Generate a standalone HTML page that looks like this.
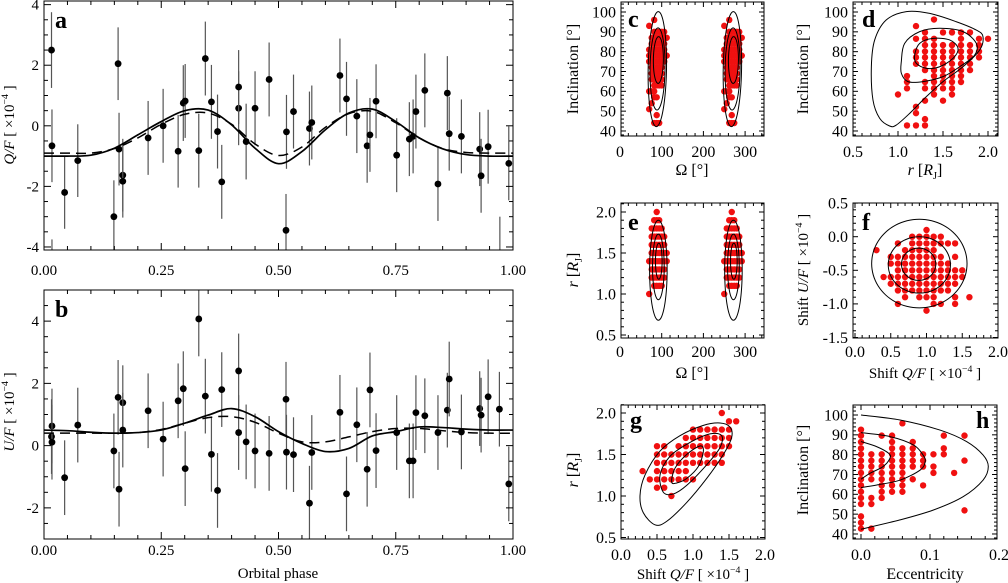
<!DOCTYPE html>
<html><head><meta charset="utf-8"><style>
html,body{margin:0;padding:0;background:#fff;}
svg{display:block;font-family:"Liberation Serif",serif;}
</style></head><body>
<svg id="fig" width="1008" height="583" viewBox="0 0 1008 583" xmlns="http://www.w3.org/2000/svg"></svg>
<script>
// ---------- DATA ----------
const A_phase=[.016,.017,.044,.072,.149,.158,.160,.168,.168,.222,.254,.286,.297,.301,.330,.344,.357,.370,.379,.415,.415,.431,.450,.480,.516,.517,.532,.566,.571,.631,.645,.667,.689,.695,.708,.752,.779,.787,.793,.812,.840,.860,.864,.890,.929,.932,.947,.991,.972,.017];
const A_val=[2.5,-0.66,-2.2,-1.15,-3.0,2.05,-0.77,-1.63,-1.83,-0.4,0.0,-0.84,0.75,0.82,-0.82,2.22,0.79,-0.19,-1.85,0.58,1.28,-0.52,0.58,1.53,-3.45,-0.2,0.47,-0.09,0.11,1.66,0.89,0.32,-0.66,-0.3,0.81,-0.97,-0.44,-0.35,0.47,1.17,-1.92,1.08,-0.26,-0.35,-0.77,-1.65,-0.69,-1.24,-4.5,-5.0];
const A_err=[1.25,1.2,1.2,1.2,1.2,1.2,1.2,1.2,1.2,1.22,1.22,1.2,1.25,1.22,1.22,1.22,1.22,1.22,1.22,1.22,1.22,1.25,1.22,1.22,1.2,1.22,1.22,1.22,1.22,1.22,1.22,1.22,1.22,1.22,1.22,1.22,1.22,1.22,1.22,1.22,1.22,1.22,1.22,1.22,1.22,1.22,1.22,1.22,1.5,1.25];
const A_modelPhase=[0,.05,.1,.15,.2,.25,.3,.35,.4,.45,.5,.55,.6,.65,.7,.75,.8,.85,.9,.95,1];
const A_solid=[-1.0,-1.0,-0.97,-0.74,-0.3,0.14,0.5,0.52,0.03,-0.74,-1.25,-0.85,-0.13,0.42,0.55,0.14,-0.4,-0.76,-0.95,-1.0,-1.0];
const A_dashed=[-0.9,-0.9,-0.9,-0.75,-0.4,0.05,0.38,0.42,0.05,-0.6,-0.98,-0.7,-0.05,0.4,0.48,0.1,-0.4,-0.75,-0.88,-0.9,-0.9];

const B_phase=[.016,.017,.017,.044,.072,.149,.158,.160,.168,.168,.222,.254,.286,.297,.301,.330,.344,.357,.370,.379,.415,.415,.431,.450,.480,.516,.517,.532,.566,.571,.631,.645,.667,.689,.695,.708,.752,.779,.787,.793,.812,.840,.860,.864,.890,.929,.932,.947,.971,.991];
const B_val=[0.29,0.63,0.11,-1.03,0.66,-0.17,1.55,-1.4,1.38,0.5,1.12,0.21,1.44,1.83,-0.74,4.07,1.59,-0.28,-1.44,1.8,2.4,0.42,0.12,-0.17,-0.25,1.49,-0.21,-0.29,-1.85,-0.22,1.07,-1.55,0.67,-0.76,1.79,-0.16,0.42,-0.49,-0.49,1.06,0.96,0.42,1.14,2.14,0.44,1.19,0.98,1.57,1.17,-1.23];
const B_err=[1.2,1.2,1.2,1.2,1.2,1.2,1.2,1.2,1.2,1.2,1.2,1.2,1.2,1.2,1.2,1.2,1.2,1.2,1.2,1.2,1.2,1.2,1.2,1.2,1.2,1.2,1.2,1.2,1.2,1.2,1.2,1.2,1.2,1.2,1.2,1.2,1.2,1.2,1.2,1.2,1.2,1.2,1.2,1.2,1.2,1.2,1.2,1.2,1.2,1.2];
const B_modelPhase=[0,.05,.1,.15,.2,.25,.3,.35,.4,.45,.5,.55,.6,.65,.7,.75,.8,.85,.9,.95,1];
const B_solid=[.5,.48,.43,.4,.42,.5,.72,.98,1.19,.93,.45,.07,-.19,-.09,.31,.45,.6,.58,.53,.5,.5];
const B_dashed=[.4,.4,.4,.4,.42,.52,.72,.9,.93,.75,.4,.12,.12,.28,.45,.55,.55,.48,.42,.4,.4];

const C_om=[70,76,82,88,94,100,106,112];
const C_inc=[[93,81,78,75,60,51],[87,84,81,78,75,72,69,66,60,54],[96,90,87,84,81,78,75,72,69,66,63,60,57,44],[90,87,84,81,78,75,72,69,66,63,57,48,44],[90,87,84,81,78,75,72,69,66,63,44],[90,87,84,81,78,75,72,69,66,63],[90,87,84,81,78,75],[87,78]];
const C_contours=[[89.5,71.2,22,29,0.08],[90,71.3,18,20.7,0.06],[92,75.8,12,11.8,0.05]];

const D_r=[1.0,1.1,1.2,1.3,1.4,1.5,1.6,1.7,1.8,1.9,2.0];
const D_inc=[[58.4],[67.7,64.7,61.5,42.8],[92.9,86.5,80.1,77.1,73.9,52.2,49.0,42.8],[89.7,86.5,83.3,80.1,77.1,73.9,70.7,64.7,61.5,55.3,46.0,42.8],[96.2,86.5,83.3,80.1,77.1,73.9,70.7,67.7,64.7,61.5,58.4],[89.7,83.3,80.1,77.1,73.9,70.7,67.7,64.7,61.5,55.3],[89.7,83.3,80.1,77.1,73.9,70.7,67.7,64.7,61.5,58.4],[89.7,86.5,83.3,80.1,77.1,73.9,70.7,67.7,64.7],[89.7,83.3,80.1,77.1,73.9,70.7],[86.5,83.3,80.1,77.1],[86.5]];
const D_outerR=[.907,.796,.722,.704,.741,.870,1.093,1.352,1.648,1.870,1.944,1.907,1.722,1.5,1.315,1.13,.981];
const D_outerI=[42.5,46.4,55.6,72.4,85.9,96,100.2,99.3,95.1,90.9,87.6,80.8,72.4,64.9,57.3,48.9,43];
const D_midR=[1.037,1.074,1.241,1.463,1.722,1.870,1.852,1.685,1.5,1.278,1.111,1.037];
const D_midI=[75,84.2,90.1,91.8,90.1,84.2,78.3,72.4,67.4,64.9,64.9,69.1];
const D_inR=[1.185,1.241,1.389,1.574,1.667,1.611,1.463,1.315,1.204];
const D_inI=[78.3,84.2,86.7,85.9,81.7,76.6,72.4,71.6,74.1];

const E_r=[2.0,1.9,1.8,1.7,1.6,1.5,1.4,1.3,1.2,1.1,1.0];
const E_om=[[88],[82,88,94],[76,82,88,94,100],[76,82,88,94,100,106],[76,82,88,94,100,106],[76,82,88,94,100,106,112],[70,76,82,88,94,100,106,112],[76,82,88,94,100,106],[76,82,88,94,100,106],[82,88,94,100],[70]];
const E_contours=[[92,1.29,21,0.61],[92,1.33,14,0.4],[93,1.4,8,0.22]];

const F_q=[0.3,0.4,0.5,0.6,0.7,0.8,0.9,1.0,1.1,1.2,1.3,1.4,1.5,1.6];
const F_u=[[-0.2],[-0.6],[-0.3,-0.4,-0.6,-0.7],[-0.1,-0.3,-0.4,-0.5,-0.6,-0.7,-0.8,-1.0],[-0.2,-0.3,-0.4,-0.5,-0.6,-0.7,-0.8,-0.9],[0,-0.1,-0.2,-0.3,-0.4,-0.5,-0.6,-0.7,-0.8],[0,-0.1,-0.2,-0.3,-0.4,-0.5,-0.6,-0.7,-0.8,-0.9],[0.1,0,-0.1,-0.2,-0.3,-0.4,-0.5,-0.6,-0.7,-0.8,-0.9,-1.1],[0,-0.1,-0.2,-0.3,-0.4,-0.5,-0.6,-0.7,-0.8,-0.9,-1.0],[0,-0.1,-0.3,-0.4,-0.5,-0.6,-0.7,-0.8,-1.0],[-0.1,-0.4,-0.5,-0.6,-0.7,-0.8],[-0.1,-0.3,-0.5,-0.6,-0.7,-0.9,-1.0],[-0.5,-0.6],[-0.9]];
const F_contours=[[0.9,-0.40,0.667,0.66],[0.9,-0.42,0.435,0.42],[0.89,-0.41,0.24,0.24]];

const G_q=[0.3,0.4,0.5,0.6,0.7,0.8,0.9,1.0,1.1,1.2,1.3,1.4,1.5,1.6];
const G_r=[[1.3],[1.2],[1.6,1.5,1.4,1.3,1.2,1.1],[1.6,1.5,1.4,1.3,1.2,1.1],[1.5,1.4,1.3,1.2,1.0],[1.6,1.5,1.4,1.3,1.2],[1.7,1.6,1.5,1.4,1.3,1.2],[1.8,1.7,1.6,1.5,1.4,1.2],[1.8,1.7,1.6,1.5,1.4],[1.8,1.7,1.6,1.5,1.4],[1.8,1.7,1.6,1.5,1.4],[2.0,1.8,1.7,1.6,1.5,1.4],[1.9,1.8,1.7,1.6],[1.9]];
const G_outerQ=[.472,.310,.264,.333,.542,.819,1.144,1.375,1.514,1.537,1.421,1.190,.912,.634];
const G_outerR=[.653,.798,1.004,1.252,1.541,1.727,1.851,1.880,1.831,1.707,1.5,1.211,.921,.694];
const G_midQ=[.588,.542,.681,.958,1.236,1.398,1.375,1.190,.912,.727];
const G_midR=[1.045,1.252,1.479,1.645,1.748,1.727,1.583,1.376,1.128,1.025];
const G_inQ=[.704,.75,.912,1.097,1.144,1.074,.912,.773];
const G_inR=[1.169,1.335,1.5,1.603,1.541,1.355,1.211,1.157];

const H_e=[0,.015,.03,.045,.06,.075,.09,.105,.12,.135,.15];
const H_inc=[[92.6,89.6,86.4,83.2,80.2,77,74,70.8,67.6,64.5,61.3,58.2,55.1,48.9,45.7,42.7],[80.2,77,74,70.8,67.6,58.2,55.1,42.7],[89.6,80.2,77,74,70.8,67.6,64.5,61.3,58.2],[89.6,86.4,83.2,80.2,77,74,70.8,67.6,64.5,61.3],[95.8,83.2,80.2,77,74,70.8,67.6,64.5,61.3],[86.4,83.2,80.2,77,74,67.6],[80.2,77,74,64.5],[80.2,74,70.8],[89.6,83.2,80.2],[70.8],[89.6,77,51.9]];
const H_outerE=[0,.0565,.1145,.153,.177,.1845,.177,.148,.105,.0565,0];
const H_outerI=[100,97.5,92.4,86.6,79.8,74,67.2,58.8,52.1,47.1,42.4];
const H_midE=[0,.042,.076,.090,.093,.086,.057,.023,0];
const H_midI=[91.1,89.1,84.9,79.8,76.5,72.3,67.2,64.7,63.4];
const H_inE=[0,.023,.040,.042,.032,.013,0];
const H_inI=[86.6,84,80.7,78.2,74,70.6,67.6];

// ---------- HELPERS ----------
const NS="http://www.w3.org/2000/svg";
const svg=document.getElementById('fig');
function el(tag,attrs,parent){const e=document.createElementNS(NS,tag);for(const k in attrs)e.setAttribute(k,attrs[k]);(parent||svg).appendChild(e);return e;}
function catmull(pts,closed){
  const n=pts.length;if(n<2)return '';
  let d='M'+pts[0][0].toFixed(2)+','+pts[0][1].toFixed(2);
  const m=closed?n:n-1;
  for(let i=0;i<m;i++){
    const g=j=>closed?pts[(j+n)%n]:pts[Math.max(0,Math.min(n-1,j))];
    const p0=g(i-1),p1=g(i),p2=g(i+1),p3=g(i+2);
    const c1=[p1[0]+(p2[0]-p0[0])/6,p1[1]+(p2[1]-p0[1])/6];
    const c2=[p2[0]-(p3[0]-p1[0])/6,p2[1]-(p3[1]-p1[1])/6];
    d+=`C${c1[0].toFixed(2)},${c1[1].toFixed(2)} ${c2[0].toFixed(2)},${c2[1].toFixed(2)} ${p2[0].toFixed(2)},${p2[1].toFixed(2)}`;
  }
  return d+(closed?'Z':'');
}
let clipId=0;
function panel(p){
  const g=el('g',{});
  
  
  const cid='clip'+(clipId++);
  const cp=el('clipPath',{id:cid},g);el('rect',{x:p.x0,y:p.y0,width:p.x1-p.x0,height:p.y1-p.y0},cp);
  const plot=el('g',{'clip-path':`url(#${cid})`},g);
  
  
  const ax=el('g',{stroke:'#000','stroke-width':1,fill:'none'},g);
  
  
  const fr=el('rect',{x:p.x0,y:p.y0,width:p.x1-p.x0,height:p.y1-p.y0},ax);
  
  
  const ML=p.maj,mL=p.min;
  const tk=(x1,y1,x2,y2)=>el('line',{x1,y1,x2,y2},ax);
  for(let v=p.xr[0];v<=p.xr[1]+1e-9;v+=p.xm){const x=p.sx(v);if(x<p.x0-0.5||x>p.x1+0.5)continue;const isM=p.xt.some(t=>Math.abs(t-v)<1e-6);const L=isM?ML:mL;tk(x,p.y1,x,p.y1-L);tk(x,p.y0,x,p.y0+L);}
  for(let v=p.yr[0];v<=p.yr[1]+1e-9;v+=p.ym){const y=p.sy(v);if(y<p.y0-0.5||y>p.y1+0.5)continue;const isM=p.yt.some(t=>Math.abs(t-v)<1e-6);const L=isM?ML:mL;tk(p.x0,y,p.x0+L,y);tk(p.x1,y,p.x1-L,y);}
  const lab=el('g',{'font-size':p.fs,fill:'#000'},g);
  
  
  p.xt.forEach(v=>{const t=el('text',{x:p.sx(v),y:p.xly,'text-anchor':'middle'},lab);t.textContent=p.xf(v);
    
    });
  p.yt.forEach(v=>{const t=el('text',{x:p.x0-p.ylg,y:p.sy(v)+p.fs*0.33,'text-anchor':'end'},lab);t.textContent=p.yf(v);
    
    });
  if(p.letter){const t=el('text',{x:p.letter[0],y:p.letter[1],'font-size':24,'font-weight':'bold'},g);t.textContent=p.letter[2];
    
    }
  return plot;
}
function richText(x,y,parts,rot,size,name){
  const t=el('text',{x,y,'font-size':size,'text-anchor':'middle',transform:rot?`rotate(-90 ${x} ${y})`:''});
  
  
  parts.forEach(pt=>{const s=el('tspan',{},t);if(pt.i)s.setAttribute('font-style','italic');
    if(pt.sup){s.setAttribute('font-size',size*0.65);s.setAttribute('dy',-size*0.4);}
    if(pt.sub){s.setAttribute('font-size',size*0.65);s.setAttribute('dy',size*0.25);}
    if(pt.back){s.setAttribute('dy',pt.back);}
    s.textContent=pt.t;});
  return t;
}
const f1=v=>v.toFixed(1), f2=v=>v.toFixed(2), f0=v=>String(v);
const yAxLabel=v=>v<0?'-'+Math.abs(v):String(v);
function dot(plot,x,y,r,fill,name){const c=el('circle',{cx:x,cy:y,r,fill},plot);
  
  }
function contour(plot,pts,closed,name){const p=el('path',{d:catmull(pts,closed),fill:'none',stroke:'#000','stroke-width':1},plot);
  
  }

// ---------- PANEL A & B ----------
function mainPanel(name,y0,y1,ylo,yhi,phase,val,err,mp,solid,dashed,letter,yt,xly){
  const sx=v=>44+v*469, sy=v=>y1-(v-ylo)/(yhi-ylo)*(y1-y0);
  const plot=panel({name,x0:44,x1:513,y0,y1,sx,sy,xt:[0,.25,.5,.75,1],xm:0.05,xr:[0,1],yt,ym:0.5,yr:[Math.ceil(ylo*2)/2,yhi],maj:7,min:4,fs:15,xly,ylg:5,xf:f2,yf:yAxLabel,letter:[55,y0+27,letter]});
  for(let i=0;i<phase.length;i++){
    const x=sx(phase[i]);
    const l=el('line',{x1:x,x2:x,y1:sy(val[i]-err[i]),y2:sy(val[i]+err[i]),stroke:'#555','stroke-width':1.2},plot);
    
    
    dot(plot,x,sy(val[i]),3.4,'#000','data-point');
  }
  const sp=el('path',{d:catmull(mp.map((p,i)=>[sx(p),sy(solid[i])]),false),fill:'none',stroke:'#000','stroke-width':1.7},plot);
  
  
  const dp=el('path',{d:catmull(mp.map((p,i)=>[sx(p),sy(dashed[i])]),false),fill:'none',stroke:'#000','stroke-width':1.5,'stroke-dasharray':'10,6'},plot);
  
  
}
mainPanel('panel-a-qf',1,250,-4.1,4.12,A_phase,A_val,A_err,A_modelPhase,A_solid,A_dashed,'a',[-4,-2,0,2,4],275);
mainPanel('panel-b-uf',290,539,-3,5,B_phase,B_val,B_err,B_modelPhase,B_solid,B_dashed,'b',[-2,0,2,4],555);
richText(14,125,[{t:'Q/F',i:1},{t:' [ ×10'},{t:'−4',sup:1},{t:' ]',back:6}],true,15,'y-axis-title-a');
richText(14,412,[{t:'U/F',i:1},{t:' [ ×10'},{t:'−4',sup:1},{t:' ]',back:6}],true,15,'y-axis-title-b');
richText(278,578,[{t:'Orbital phase'}],false,15,'x-axis-title-orbital-phase');

// ---------- SMALL PANELS ----------
const inc_sy=top=>v=>top+(100-v)*1.983;
const om_sx=v=>620+v*0.417;
// c
{const sy=inc_sy(12);
 const plot=panel({name:'panel-c',x0:621,x1:764,y0:2,y1:136,sx:om_sx,sy,xt:[0,100,200,300],xm:20,xr:[0,340],yt:[40,50,60,70,80,90,100],ym:2,yr:[38,104],maj:5,min:3,fs:16,xly:157,ylg:5,xf:f0,yf:f0,letter:[628,27,'c']});
 [0,180].forEach(off=>{
  C_om.forEach((o,i)=>C_inc[i].forEach(v=>dot(plot,om_sx(o+off),sy(v),3.2,'#f01010','sample-dot')));
  C_contours.forEach(c=>{const pts=[];for(let k=0;k<48;k++){const t=k/48*2*Math.PI;const inc=c[1]+c[3]*Math.sin(t);pts.push([om_sx(c[0]+off+c[2]*Math.cos(t)+c[4]*(inc-c[1])),sy(inc)]);}contour(plot,pts,true,'confidence-contour');});
 });
 richText(578,69,[{t:'Inclination [°]'}],true,16,'y-axis-title-c');
 richText(692,175,[{t:'Ω [°]'}],false,16,'x-axis-title-c');
}
// d
{const sx=v=>898+(v-1)*90, sy=inc_sy(12);
 const plot=panel({name:'panel-d',x0:853,x1:998,y0:2,y1:136,sx,sy,xt:[0.5,1.0,1.5,2.0],xm:0.1,xr:[0.4,2.1],yt:[40,50,60,70,80,90,100],ym:2,yr:[38,104],maj:5,min:3,fs:16,xly:157,ylg:5,xf:f1,yf:f0,letter:[862,27,'d']});
 D_r.forEach((r,i)=>D_inc[i].forEach(v=>dot(plot,sx(r),sy(v),3.2,'#f01010','sample-dot')));
 contour(plot,D_outerR.map((r,i)=>[sx(r),sy(D_outerI[i])]),true,'contour-outer');
 contour(plot,D_midR.map((r,i)=>[sx(r),sy(D_midI[i])]),true,'contour-middle');
 contour(plot,D_inR.map((r,i)=>[sx(r),sy(D_inI[i])]),true,'contour-inner');
 richText(808,69,[{t:'Inclination [°]'}],true,16,'y-axis-title-d');
 richText(925,175,[{t:'r',i:1},{t:' ['},{t:'R',i:1},{t:'J',sub:1},{t:']',back:-4}],false,16,'x-axis-title-d');
}
// e
{const sy=v=>212+(2-v)*82;
 const plot=panel({name:'panel-e',x0:621,x1:764,y0:203,y1:338,sx:om_sx,sy,xt:[0,100,200,300],xm:20,xr:[0,340],yt:[0.5,1.0,1.5,2.0],ym:0.1,yr:[0.5,2.1],maj:5,min:3,fs:16,xly:357,ylg:5,xf:f0,yf:f1,letter:[628,230,'e']});
 [0,180].forEach(off=>{
  E_r.forEach((r,i)=>E_om[i].forEach(o=>dot(plot,om_sx(o+off),sy(r),3.2,'#f01010','sample-dot')));
  E_contours.forEach(c=>{const pts=[];for(let k=0;k<48;k++){const t=k/48*2*Math.PI;pts.push([om_sx(c[0]+off+c[2]*Math.cos(t)),sy(c[1]+c[3]*Math.sin(t))]);}contour(plot,pts,true,'confidence-contour');});
 });
 richText(578,270,[{t:'r',i:1},{t:' ['},{t:'R',i:1},{t:'J',sub:1},{t:']',back:-4}],true,16,'y-axis-title-e');
 richText(692,378,[{t:'Ω [°]'}],false,16,'x-axis-title-e');
}
// f
{const sx=v=>855+v*71.5, sy=v=>236.7-v*67.2;
 const plot=panel({name:'panel-f',x0:853,x1:998,y0:203,y1:338,sx,sy,xt:[0,0.5,1.0,1.5,2.0],xm:0.1,xr:[0,2],yt:[-1.5,-1.0,-0.5,0,0.5],ym:0.1,yr:[-1.5,0.5],maj:5,min:3,fs:16,xly:357,ylg:5,xf:f1,yf:v=>(v<0?'-':'')+Math.abs(v).toFixed(1),letter:[862,230,'f']});
 F_q.forEach((q,i)=>F_u[i].forEach(u=>dot(plot,sx(q),sy(u),3.2,'#f01010','sample-dot')));
 F_contours.forEach(c=>{const pts=[];for(let k=0;k<48;k++){const t=k/48*2*Math.PI;pts.push([sx(c[0]+c[2]*Math.cos(t)),sy(c[1]+c[3]*Math.sin(t))]);}contour(plot,pts,true,'confidence-contour');});
 richText(808,270,[{t:'Shift '},{t:'U/F',i:1},{t:' [ ×10'},{t:'−4',sup:1},{t:' ]',back:6}],true,15,'y-axis-title-f');
 richText(925,378,[{t:'Shift '},{t:'Q/F',i:1},{t:' [ ×10'},{t:'−4',sup:1},{t:' ]',back:6}],false,15,'x-axis-title-f');
}
// g
{const sx=v=>621+v*72, sy=v=>413+(2-v)*83;
 const plot=panel({name:'panel-g',x0:621,x1:765,y0:405,y1:539,sx,sy,xt:[0,0.5,1.0,1.5,2.0],xm:0.1,xr:[0,2],yt:[0.5,1.0,1.5,2.0],ym:0.1,yr:[0.5,2.1],maj:5,min:3,fs:16,xly:560,ylg:5,xf:f1,yf:f1,letter:[630,428,'g']});
 G_q.forEach((q,i)=>G_r[i].forEach(r=>dot(plot,sx(q),sy(r),3.2,'#f01010','sample-dot')));
 contour(plot,G_outerQ.map((q,i)=>[sx(q),sy(G_outerR[i])]),true,'contour-outer');
 contour(plot,G_midQ.map((q,i)=>[sx(q),sy(G_midR[i])]),true,'contour-middle');
 contour(plot,G_inQ.map((q,i)=>[sx(q),sy(G_inR[i])]),true,'contour-inner');
 richText(578,470,[{t:'r',i:1},{t:' ['},{t:'R',i:1},{t:'J',sub:1},{t:']',back:-4}],true,16,'y-axis-title-g');
 richText(693,579,[{t:'Shift '},{t:'Q/F',i:1},{t:' [ ×10'},{t:'−4',sup:1},{t:' ]',back:6}],false,15,'x-axis-title-g');
}
// h
{const sx=v=>861+v*690, sy=inc_sy(415);
 const plot=panel({name:'panel-h',x0:853,x1:997,y0:405,y1:539,sx,sy,xt:[0,0.1,0.2],xm:0.02,xr:[0,0.2],yt:[40,50,60,70,80,90,100],ym:2,yr:[38,104],maj:5,min:3,fs:16,xly:560,ylg:5,xf:f1,yf:f0,letter:[976,428,'h']});
 H_e.forEach((e,i)=>H_inc[i].forEach(v=>dot(plot,sx(e),sy(v),3.2,'#f01010','sample-dot')));
 contour(plot,H_outerE.map((e,i)=>[sx(e),sy(H_outerI[i])]),false,'contour-outer');
 contour(plot,H_midE.map((e,i)=>[sx(e),sy(H_midI[i])]),false,'contour-middle');
 contour(plot,H_inE.map((e,i)=>[sx(e),sy(H_inI[i])]),false,'contour-inner');
 richText(808,470,[{t:'Inclination [°]'}],true,16,'y-axis-title-h');
 richText(925,579,[{t:'Eccentricity'}],false,16,'x-axis-title-h');
}
</script>
</body></html>
